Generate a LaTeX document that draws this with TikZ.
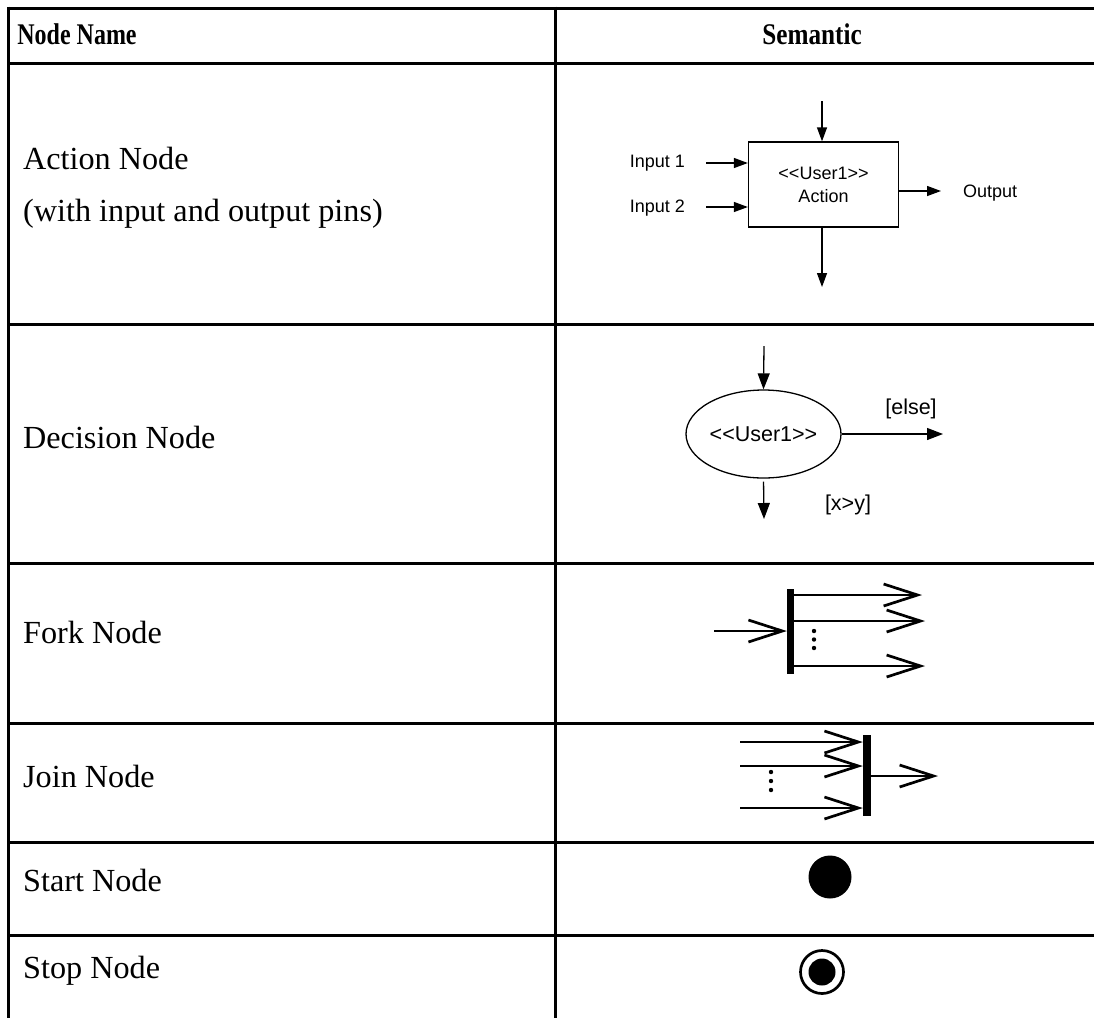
\documentclass[tikz,border=0pt]{standalone}
\usepackage{fontspec}
\setmainfont{Liberation Serif}
\newfontfamily\arialf{Liberation Sans}
\usetikzlibrary{arrows.meta,shapes.geometric}
\tikzset{
  grid/.style={line width=3pt},
  body/.style={anchor=west,inner sep=0pt,font=\fontsize{32.2}{38}\selectfont},
  head/.style={inner sep=0pt,font=\fontsize{30}{36}\selectfont\bfseries},
  lab/.style={inner sep=0pt,font=\arialf\fontsize{18}{21}\selectfont},
  dlab/.style={inner sep=0pt,font=\arialf\fontsize{21.5}{25}\selectfont},
  thin/.style={line width=1.3pt,-{Triangle[length=14pt,width=10pt]}},
  dthin/.style={line width=1.3pt,-{Triangle[length=16pt,width=12pt]}},
  barb/.style={line width=2.7pt,-{Straight Barb[length=34pt,width=22pt,line width=2.7pt]}},
  bar/.style={fill=black,draw=none,inner sep=0pt},
}
\begin{document}
\begin{tikzpicture}[x=1pt,y=-1pt]
\useasboundingbox (0,0) rectangle (1094,1018);
% table grid
\draw[grid] (8,8) -- (1094,8);
\foreach \yy in {63,324,563,723,842,935} \draw[grid] (8,\yy) -- (1094,\yy);
\draw[grid] (8,6.5) -- (8,1018);
\draw[grid] (555,6.5) -- (555,1018);
% header
\node[head] (h1) at (77,34) {\scalebox{0.8}[1]{Node Name}};
\node[head] (h2) at (812,34) {\scalebox{0.84}[1]{Semantic}};
% left column
\node[body] (t1) at (23,158) {Action Node};
\node[body] (t1b) at (23,214) {(with input and output pins)};
\node[body] (t2) at (23,437) {Decision Node};
\node[body] (t3) at (23,632) {Fork Node};
\node[body] (t4) at (23,776) {Join Node};
\node[body] (t5) at (23,880) {Start Node};
\node[body] (t6) at (23,971) {Stop Node};
% action node
\node[draw,line width=1.3pt,minimum width=150pt,minimum height=85pt,inner sep=0pt,align=center,lab] (act) at (823.5,184.5) {<<User1>>\\[2pt]Action};
\coordinate (atop) at (822,101);
\draw[thin] (atop) -- (atop |- act.north);
\coordinate (abot) at (822,287);
\draw[thin] (act.south -| abot) -- (abot);
\coordinate (i1) at (706,163);
\coordinate (i2) at (706,207);
\draw[thin] (i1) -- (i1 -| act.west);
\draw[thin] (i2) -- (i2 -| act.west);
\node[lab,anchor=east] (li1) at (685,163) {Input 1};
\node[lab,anchor=east] (li2) at (685,208) {Input 2};
\coordinate (o1) at (941,191);
\draw[thin] (act.east |- o1) -- (o1);
\node[lab,anchor=west] (lo) at (963,193) {Output};
% decision node
\node[draw,ellipse,line width=1.3pt,minimum width=155pt,minimum height=88pt,inner sep=0pt,dlab] (dec) at (763.5,434) {<<User1>>};
\coordinate (dtop) at (764,346);
\draw[dthin] (dtop) -- (dec.north);
\coordinate (dright) at (943,434);
\draw[dthin] (dec.east) -- (dright);
\node[dlab] (lelse) at (911,409) {[else]};
\coordinate (dbot) at (764,519);
\draw[dthin,shorten <=3pt] (dec.south) -- (dbot);
\node[dlab] (lxy) at (848,505) {[x>y]};
% fork node
\node[bar,minimum width=7pt,minimum height=85pt] (fbar) at (790.5,631.5) {};
\coordinate (fin) at (714,631);
\draw[barb] (fin) -- (fbar.west |- fin);
\coordinate (fo1) at (922,595);
\coordinate (fo2) at (925,621);
\coordinate (fo3) at (925,666);
\draw[barb] (fbar.east |- fo1) -- (fo1);
\draw[barb] (fbar.east |- fo2) -- (fo2);
\draw[barb] (fbar.east |- fo3) -- (fo3);
\foreach \yy in {631,639.5,648} \fill (814,\yy) circle (2.2pt);
% join node
\node[bar,minimum width=8pt,minimum height=81pt] (jbar) at (867,775.5) {};
\coordinate (ji1) at (740,742);
\coordinate (ji2) at (740,766);
\coordinate (ji3) at (740,808);
\draw[barb] (ji1) -- (jbar.west |- ji1);
\draw[barb] (ji2) -- (jbar.west |- ji2);
\draw[barb] (ji3) -- (jbar.west |- ji3);
\coordinate (jo) at (938,776);
\draw[barb] (jbar.east |- jo) -- (jo);
\foreach \yy in {772,781,790} \fill (771,\yy) circle (2.2pt);
% start node
\node[circle,fill=black,minimum size=43pt,inner sep=0pt] (start) at (830,877) {};
% stop node
\node[circle,draw=black,line width=2.7pt,minimum size=43pt,inner sep=0pt] (stop) at (822,972) {};
\node[circle,fill=black,minimum size=27pt,inner sep=0pt] (stopin) at (stop.center) {};
\end{tikzpicture}
\end{document}
